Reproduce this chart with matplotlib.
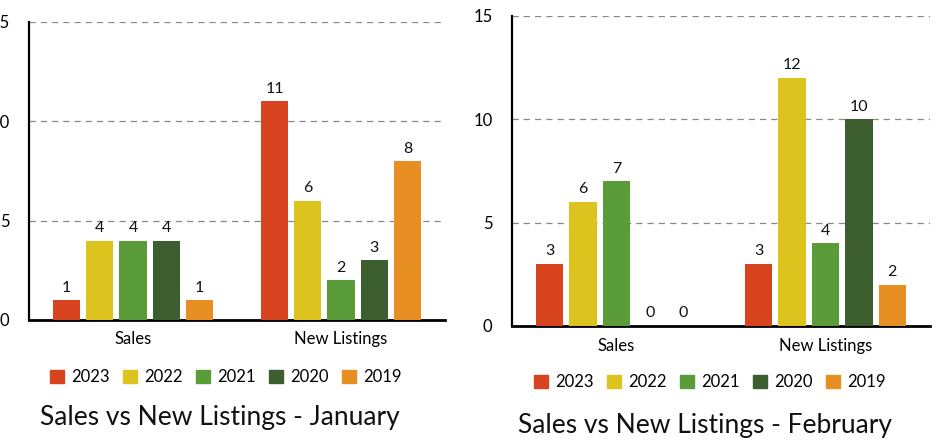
import matplotlib
matplotlib.use('Agg')
import matplotlib.pyplot as plt
import numpy as np
from matplotlib.patches import Patch

plt.rcParams['font.family'] = ['Lato', 'DejaVu Sans']

categories = ['Sales', 'New Listings']
years = ['2023', '2022', '2021', '2020', '2019']
colors = ['#d8441f', '#dcc31e', '#5a9b3a', '#3d5e2e', '#e78f22']

jan = {
    '2023': [1, 11],
    '2022': [4, 6],
    '2021': [4, 2],
    '2020': [4, 3],
    '2019': [1, 8],
}
feb = {
    '2023': [3, 3],
    '2022': [6, 12],
    '2021': [7, 4],
    '2020': [0, 10],
    '2019': [0, 2],
}

W, H = 950, 446
fig = plt.figure(figsize=(9.5, 4.46), dpi=100)


def draw(rect, data, title, lab_y, leg_y, title_y, title_x):
    l, t, r, b = rect
    ax = fig.add_axes([l / W, 1 - b / H, (r - l) / W, (b - t) / H])
    x = np.arange(len(categories))
    step = 0.16
    for i, yr in enumerate(years):
        vals = data[yr]
        pos = x + (i - 2) * step
        ax.bar(pos, vals, width=0.13, color=colors[i], zorder=3)
        for px, v in zip(pos, vals):
            ax.annotate(str(v), (px, v), xytext=(0, 4), textcoords='offset points',
                        ha='center', va='bottom', fontsize=11.5, color='#111111')
    ax.set_xlim(-0.5, 1.5)
    ax.set_ylim(0, 15)
    ax.set_yticks([0, 5, 10, 15])
    ax.set_xticks([])
    ax.yaxis.grid(True, linestyle=(0, (5, 4)), color='#888888', linewidth=0.9, zorder=0)
    for s in ['top', 'right']:
        ax.spines[s].set_visible(False)
    ax.spines['left'].set_linewidth(1.6)
    ax.spines['bottom'].set_linewidth(2.0)
    ax.tick_params(axis='y', length=0, pad=14, labelsize=12)
    for i, c in enumerate(categories):
        xc = (l + (r - l) * (i * 0.5 + 0.25)) / W
        fig.text(xc, 1 - lab_y / H, c, ha='center', va='center', fontsize=12)
    handles = [Patch(color=colors[i], label=yr) for i, yr in enumerate(years)]
    fig.legend(handles=handles, loc='center', bbox_to_anchor=((l + r) / 2 / W - 0.012, 1 - leg_y / H),
               ncol=5, frameon=False, fontsize=12, handlelength=0.85, handleheight=0.85,
               handletextpad=0.42, columnspacing=0.8)
    fig.text(title_x / W, 1 - title_y / H, title, ha='center', va='center', fontsize=19, color='#111111')
    return ax


draw((29, 22, 445, 320), jan, 'Sales vs New Listings - January', 339, 377, 418, 220)
draw((512, 16, 930, 326), feb, 'Sales vs New Listings - February', 346, 382, 425, 705)

fig.savefig('out.png', dpi=100)
